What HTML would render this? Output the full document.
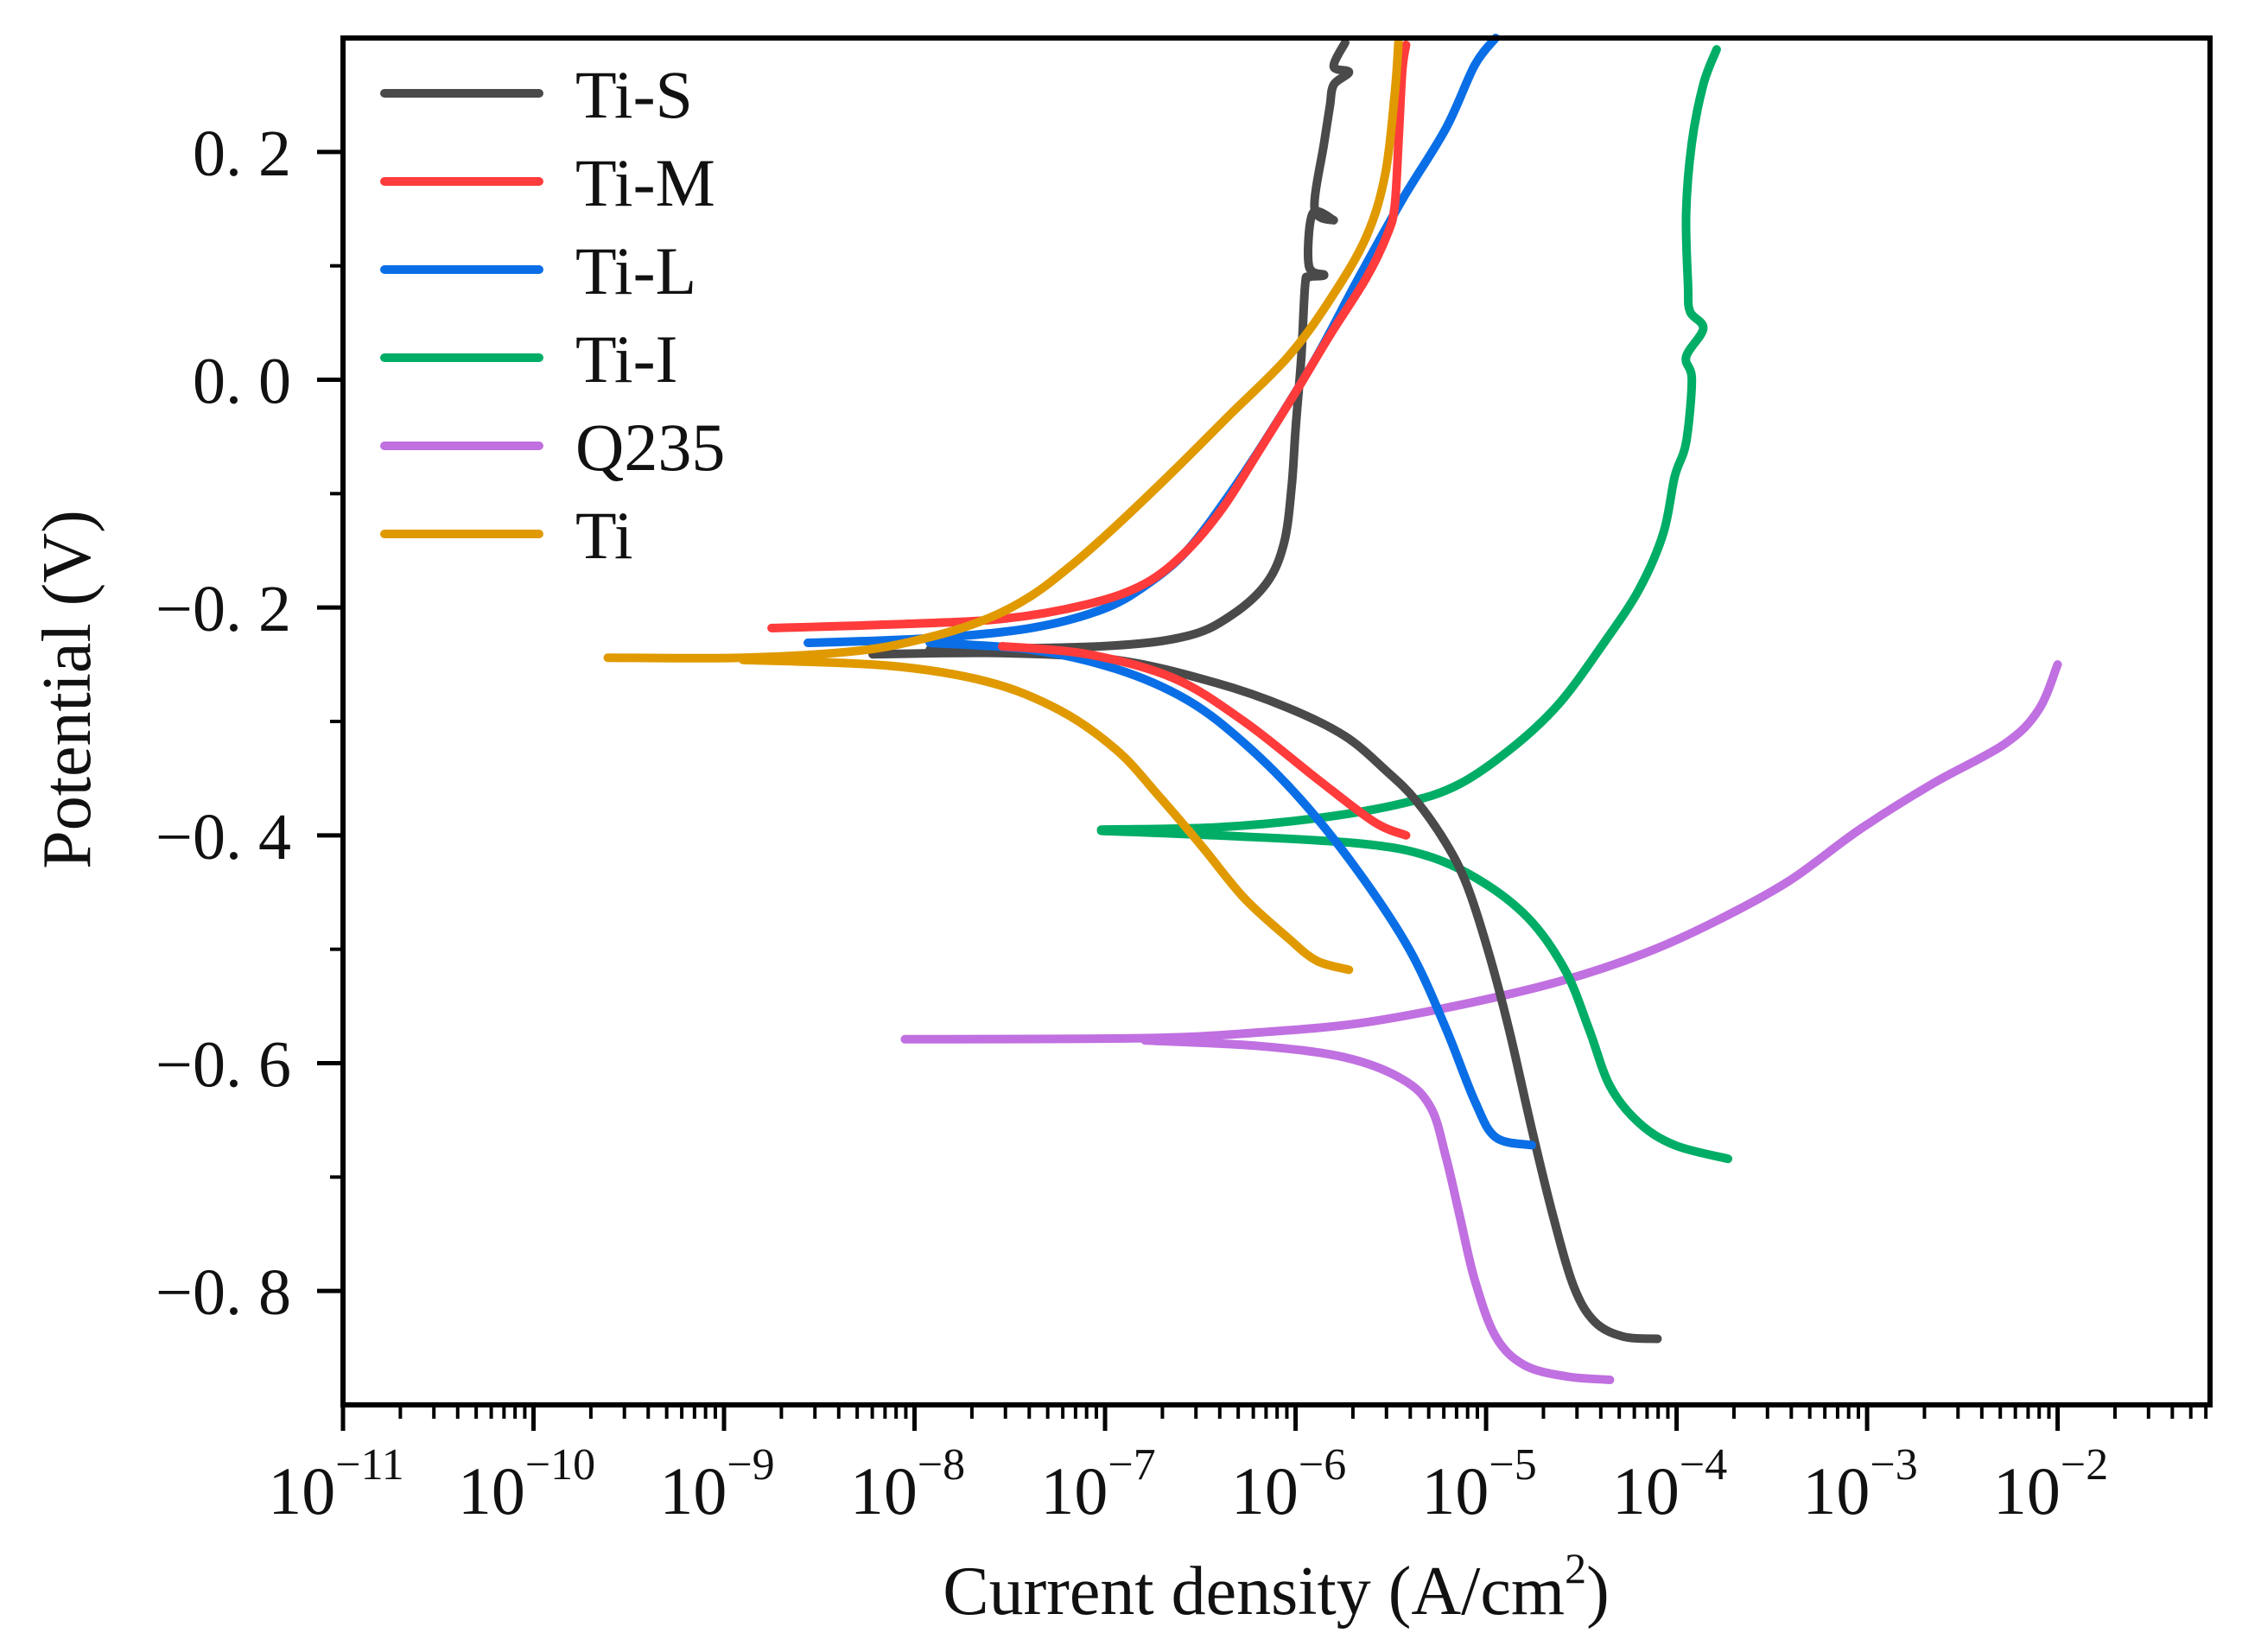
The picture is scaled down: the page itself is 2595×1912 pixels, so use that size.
<!DOCTYPE html>
<html><head><meta charset="utf-8"><style>
html,body{margin:0;padding:0;background:#fff;}
svg{display:block;}
text{font-family:"Liberation Serif","Noto Serif CJK SC",serif;fill:#111;}
</style></head><body>
<svg id="chart" width="2595" height="1912" viewBox="0 0 2595 1912"></svg>
<script>
const seriesNames=["Ti-S","Ti-M","Ti-L","Ti-I","Q235","Ti"];
const seriesColors=["#4a4a4a","#ff3b3b","#0a6fe6","#00ad66","#c070e0","#e09a00"];
const xTickExps=[-11,-10,-9,-8,-7,-6,-5,-4,-3,-2];
const yTickVals=[0.2,0.0,-0.2,-0.4,-0.6,-0.8];
const yTickLabels=["0. 2","0. 0","\u22120. 2","\u22120. 4","\u22120. 6","\u22120. 8"];
// each branch: [log10(I), V]
const tiS_anodic=[[-7.92,-0.237],[-7.02,-0.234],[-6.57,-0.225],[-6.33,-0.206],[-6.15,-0.178],[-6.06,-0.143],[-6.02,-0.093],[-6.00,-0.043],[-5.97,0.020],[-5.95,0.083],[-5.93,0.09],[-5.85,0.092],[-5.93,0.10],[-5.91,0.146],[-5.80,0.14],[-5.90,0.15],[-5.85,0.208],[-5.82,0.24],[-5.80,0.259],[-5.72,0.27],[-5.80,0.275],[-5.74,0.296]];
const tiS_cathodic=[[-8.22,-0.241],[-7.54,-0.240],[-6.94,-0.246],[-6.42,-0.266],[-6.04,-0.288],[-5.74,-0.313],[-5.52,-0.344],[-5.37,-0.369],[-5.21,-0.407],[-5.10,-0.444],[-4.99,-0.501],[-4.88,-0.570],[-4.76,-0.658],[-4.65,-0.733],[-4.54,-0.796],[-4.43,-0.827],[-4.28,-0.840],[-4.10,-0.842]];
const tiM_anodic=[[-8.75,-0.218],[-8.15,-0.215],[-7.54,-0.210],[-7.09,-0.197],[-6.79,-0.179],[-6.57,-0.150],[-6.38,-0.112],[-6.19,-0.062],[-6.00,-0.011],[-5.82,0.039],[-5.63,0.089],[-5.52,0.127],[-5.48,0.152],[-5.46,0.208],[-5.44,0.271],[-5.42,0.294]];
const tiM_cathodic=[[-7.54,-0.234],[-7.09,-0.241],[-6.64,-0.262],[-6.27,-0.300],[-5.89,-0.350],[-5.59,-0.388],[-5.42,-0.400]];
const tiL_anodic=[[-8.56,-0.231],[-7.92,-0.227],[-7.39,-0.218],[-7.02,-0.202],[-6.79,-0.181],[-6.57,-0.150],[-6.34,-0.099],[-6.12,-0.043],[-5.89,0.020],[-5.67,0.089],[-5.44,0.158],[-5.21,0.221],[-5.06,0.276],[-4.95,0.300]];
const tiL_cathodic=[[-7.92,-0.231],[-7.39,-0.237],[-6.94,-0.254],[-6.57,-0.281],[-6.27,-0.319],[-5.97,-0.369],[-5.67,-0.432],[-5.40,-0.501],[-5.21,-0.570],[-5.06,-0.633],[-4.95,-0.665],[-4.76,-0.672]];
const tiI_anodic=[[-7.02,-0.395],[-6.42,-0.393],[-5.89,-0.385],[-5.44,-0.372],[-5.14,-0.355],[-4.84,-0.320],[-4.61,-0.283],[-4.39,-0.233],[-4.20,-0.185],[-4.07,-0.135],[-4.01,-0.085],[-3.95,-0.055],[-3.92,0.000],[-3.95,0.02],[-3.86,0.045],[-3.93,0.06],[-3.94,0.083],[-3.95,0.146],[-3.92,0.208],[-3.86,0.259],[-3.79,0.29]];
const tiI_cathodic=[[-7.02,-0.396],[-6.42,-0.400],[-5.67,-0.407],[-5.29,-0.419],[-4.99,-0.444],[-4.76,-0.476],[-4.58,-0.520],[-4.46,-0.570],[-4.35,-0.620],[-4.20,-0.652],[-4.01,-0.672],[-3.73,-0.684]];
const q235_anodic=[[-8.05,-0.579],[-6.79,-0.578],[-6.19,-0.573],[-5.67,-0.565],[-5.14,-0.549],[-4.61,-0.528],[-4.16,-0.503],[-3.79,-0.475],[-3.41,-0.440],[-3.04,-0.395],[-2.66,-0.355],[-2.28,-0.320],[-2.10,-0.290],[-2.0,-0.25]];
const q235_cathodic=[[-6.79,-0.580],[-6.19,-0.585],[-5.74,-0.595],[-5.44,-0.614],[-5.29,-0.639],[-5.21,-0.683],[-5.14,-0.733],[-5.06,-0.790],[-4.95,-0.840],[-4.80,-0.865],[-4.58,-0.875],[-4.35,-0.878]];
const ti_anodic=[[-9.61,-0.244],[-8.90,-0.244],[-8.30,-0.238],[-7.92,-0.226],[-7.62,-0.210],[-7.39,-0.190],[-7.17,-0.162],[-6.94,-0.128],[-6.64,-0.080],[-6.34,-0.030],[-6.04,0.020],[-5.82,0.070],[-5.63,0.125],[-5.53,0.180],[-5.48,0.250],[-5.46,0.296]];
const ti_cathodic=[[-8.90,-0.246],[-8.14,-0.251],[-7.62,-0.265],[-7.24,-0.290],[-6.94,-0.325],[-6.72,-0.365],[-6.49,-0.410],[-6.27,-0.455],[-6.04,-0.490],[-5.89,-0.510],[-5.72,-0.518]];
const seriesBranches=[[tiS_anodic,tiS_cathodic],[tiM_anodic,tiM_cathodic],[tiL_anodic,tiL_cathodic],[tiI_anodic,tiI_cathodic],[q235_anodic,q235_cathodic],[ti_anodic,ti_cathodic]];

const NS="http://www.w3.org/2000/svg";
const svg=document.getElementById('chart');
const L=397,R=2558,T=44,B=1626;
const XMIN=-11,XMAX=-1.2,YMIN=-0.9,YMAX=0.3;
function sx(v){return L+(v-XMIN)/(XMAX-XMIN)*(R-L);}
function sy(v){return B-(v-YMIN)/(YMAX-YMIN)*(B-T);}
function mk(tag,attrs){const e=document.createElementNS(NS,tag);for(const k in attrs)e.setAttribute(k,attrs[k]);svg.appendChild(e);return e;}
function smoothPath(pts){
  let d='M'+pts[0][0].toFixed(1)+','+pts[0][1].toFixed(1);
  for(let i=0;i<pts.length-1;i++){
    const p0=pts[Math.max(i-1,0)],p1=pts[i],p2=pts[i+1],p3=pts[Math.min(i+2,pts.length-1)];
    const c1x=p1[0]+(p2[0]-p0[0])/6,c1y=p1[1]+(p2[1]-p0[1])/6;
    const c2x=p2[0]-(p3[0]-p1[0])/6,c2y=p2[1]-(p3[1]-p1[1])/6;
    d+=' C'+c1x.toFixed(1)+','+c1y.toFixed(1)+' '+c2x.toFixed(1)+','+c2y.toFixed(1)+' '+p2[0].toFixed(1)+','+p2[1].toFixed(1);
  }
  return d;
}

// series
const drawOrder=[4,3,0,2,1,5];
drawOrder.forEach(i=>{
  seriesBranches[i].forEach((br,j)=>{
    const d=smoothPath(br.map(p=>[sx(p[0]),sy(p[1])]));
    const p=mk('path',{d:d,fill:'none',stroke:seriesColors[i],'stroke-width':10,'stroke-linejoin':'round','stroke-linecap':'round'});
    
    
  });
});

// frame
const fr=mk('rect',{x:L,y:T,width:R-L,height:B-T,fill:'none',stroke:'#000','stroke-width':6});



// x ticks
for(let e=-11;e<=-2;e++){
  const t=mk('line',{x1:sx(e),x2:sx(e),y1:B,y2:B+30,stroke:'#000','stroke-width':5});
  
  
  for(let m=2;m<=9;m++){
    const v=e+Math.log10(m); if(v>XMAX) break;
    const mt=mk('line',{x1:sx(v),x2:sx(v),y1:B,y2:B+16,stroke:'#000','stroke-width':4});
    
    
  }
}
xTickExps.forEach(e=>{
  const t=mk('text',{x:sx(e)-8,y:1752,'font-size':78,'text-anchor':'middle'});
  
  
  t.textContent='10';
  const s=document.createElementNS(NS,'tspan');
  s.setAttribute('dy','-40');s.setAttribute('font-size','52');
  s.textContent='\u2212'+(-e);
  t.appendChild(s);
});
// y ticks
yTickVals.forEach((v,i)=>{
  const t=mk('line',{x1:L-30,x2:L,y1:sy(v),y2:sy(v),stroke:'#000','stroke-width':5});
  
  
  const lb=mk('text',{x:337,y:sy(v)+27,'font-size':76,'text-anchor':'end'});
  
  
  lb.textContent=yTickLabels[i];
});
[0.1,-0.1,-0.3,-0.5,-0.7].forEach(v=>{
  const t=mk('line',{x1:L-15,x2:L,y1:sy(v),y2:sy(v),stroke:'#000','stroke-width':4});
  
  
});
// titles
const yt=mk('text',{x:0,y:0,'font-size':80,'text-anchor':'middle',transform:'translate(104,798) rotate(-90)'});


yt.textContent='Potential (V)';
const xt=mk('text',{x:1477,y:1868,'font-size':80,'text-anchor':'middle'});


xt.textContent='Current density (A/cm';
const sup=document.createElementNS(NS,'tspan');sup.setAttribute('dy','-36');sup.setAttribute('font-size','50');sup.textContent='2';xt.appendChild(sup);
const cl=document.createElementNS(NS,'tspan');cl.setAttribute('dy','36');cl.textContent=')';xt.appendChild(cl);
// legend
seriesNames.forEach((n,i)=>{
  const y=108+i*102;
  const ln=mk('line',{x1:445,x2:624,y1:y,y2:y,stroke:seriesColors[i],'stroke-width':10,'stroke-linecap':'round'});
  
  
  const t=mk('text',{x:666,y:y+28,'font-size':78});
  
  
  t.textContent=n;
});
</script>
</body></html>
